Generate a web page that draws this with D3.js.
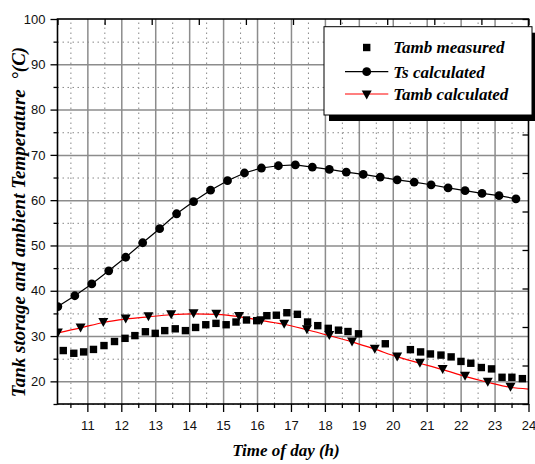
<!DOCTYPE html>
<html>
<head>
<meta charset="utf-8">
<script src="https://cdn.jsdelivr.net/npm/d3@7"></script>
<style>
  body { margin: 0; background: #fff; }
  .tick text { font-family: "Liberation Sans", Arial, sans-serif; font-size: 13px; fill: #111; }
</style>
</head>
<body>
<svg id="chart" width="535" height="464"></svg>
<script>
// Tamb measured (squares)
const measTime = [10.29, 10.60, 10.89, 11.18, 11.49, 11.80, 12.11, 12.40, 12.71, 13.00,
                  13.28, 13.59, 13.89, 14.19, 14.49, 14.79, 15.09, 15.38, 15.69, 15.99,
                  16.29, 16.57, 16.88, 17.19, 17.49, 17.79, 18.10, 18.40, 18.68, 18.99,
                  19.78, 20.52, 20.82, 21.11, 21.42, 21.72, 22.01, 22.30, 22.61, 22.91,
                  23.22, 23.51, 23.82];
const measTemp = [26.8, 26.2, 26.5, 27.05, 27.9, 28.8, 29.5, 30.1, 30.95, 30.6,
                  31.2, 31.6, 31.2, 31.9, 32.5, 32.8, 32.5, 33.1, 33.55, 33.4,
                  34.5, 34.6, 35.15, 34.8, 33.1, 32.3, 31.7, 31.3, 31.0, 30.5,
                  28.3, 27.0, 26.5, 26.05, 25.8, 25.4, 24.4, 24.0, 23.05, 22.75,
                  20.9, 20.9, 20.6];

// Ts calculated (circles, black line)
const tsTime = [10.13, 10.63, 11.13, 11.63, 12.13, 12.63, 13.13, 13.63, 14.13, 14.63,
                15.13, 15.63, 16.13, 16.63, 17.13, 17.63, 18.13, 18.63, 19.13, 19.63,
                20.13, 20.63, 21.13, 21.63, 22.13, 22.63, 23.13, 23.63];
const tsTemp = [36.5, 38.9, 41.5, 44.4, 47.4, 50.6, 53.7, 57.0, 59.7, 62.2,
                64.3, 66.0, 67.1, 67.6, 67.8, 67.3, 66.8, 66.2, 65.7, 65.1,
                64.5, 64.0, 63.4, 62.7, 62.1, 61.5, 61.0, 60.3];

// Tamb calculated (triangles)
const calcTime = [10.13, 10.80, 11.47, 12.13, 12.80, 13.47, 14.13, 14.80, 15.47, 16.13,
                  16.80, 17.47, 18.13, 18.80, 19.47, 20.13, 20.80, 21.47, 22.13, 22.80, 23.47];
const calcTemp = [30.7, 31.8, 33.0, 33.75, 34.25, 34.7, 34.9, 34.8, 34.3, 33.4,
                  32.6, 31.4, 30.1, 28.7, 27.1, 25.4, 24.0, 22.6, 21.1, 19.8, 18.7];
// red curve runs on to the right edge
const curveTime = calcTime.concat([24]);
const curveTemp = calcTemp.concat([18.3]);

const xLabels = [11, 12, 13, 14, 15, 16, 17, 18, 19, 20, 21, 22, 23, 24];
const xMinor = [10.5, 11.5, 12.5, 13.5, 14.5, 15.5, 16.5, 17.5, 18.5, 19.5, 20.5, 21.5, 22.5, 23.5];
const yLabels = [20, 30, 40, 50, 60, 70, 80, 90, 100];
const yMinor = [15, 25, 35, 45, 55, 65, 75, 85, 95];

const legendItems = ["Tamb measured", "Ts calculated", "Tamb calculated"];

const serif = "'Liberation Serif', 'Times New Roman', 'DejaVu Serif', serif";

const svg = d3.select("#chart");
const L = 57.5, R = 528.5, T = 19, B = 404;

const x = d3.scaleLinear().domain([10.12, 24]).range([L, R]);
const y = d3.scaleLinear().domain([15, 100]).range([B, T]);

svg.append("defs").append("clipPath").attr("id", "clip")
  .append("rect").attr("x", L).attr("y", T).attr("width", R - L).attr("height", B - T);

// grid - minor dotted
svg.append("g").attr("transform", `translate(0,${B})`)
  .call(d3.axisBottom(x).tickValues(xMinor).tickSize(-(B - T)).tickFormat(""))
  .call(g => g.select(".domain").remove())
  .selectAll("line").attr("stroke", "#888").attr("stroke-dasharray", "1.5,3.5");
svg.append("g").attr("transform", `translate(${L},0)`)
  .call(d3.axisLeft(y).tickValues(yMinor).tickSize(-(R - L)).tickFormat(""))
  .call(g => g.select(".domain").remove())
  .selectAll("line").attr("stroke", "#888").attr("stroke-dasharray", "1.5,3.5");

// grid - major solid
svg.append("g").attr("transform", `translate(0,${B})`)
  .call(d3.axisBottom(x).tickValues(xLabels.slice(0, -1)).tickSize(-(B - T)).tickFormat(""))
  .call(g => g.select(".domain").remove())
  .selectAll("line").attr("stroke", "#8c8c8c").attr("stroke-width", 1.5);
svg.append("g").attr("transform", `translate(${L},0)`)
  .call(d3.axisLeft(y).tickValues(yLabels.slice(0, -1)).tickSize(-(R - L)).tickFormat(""))
  .call(g => g.select(".domain").remove())
  .selectAll("line").attr("stroke", "#8c8c8c").attr("stroke-width", 1.5);

// series
const plot = svg.append("g").attr("clip-path", "url(#clip)");

const redLine = d3.line().x((d, i) => x(curveTime[i])).y(d => y(d)).curve(d3.curveMonotoneX);
plot.append("path").attr("d", redLine(curveTemp))
  .attr("fill", "none").attr("stroke", "red").attr("stroke-width", 1.2);

const tsLine = d3.line().x((d, i) => x(tsTime[i])).y(d => y(d));
plot.append("path").attr("d", tsLine(tsTemp))
  .attr("fill", "none").attr("stroke", "#000").attr("stroke-width", 1.2);

function downTri(cx, cy, w, h) {
  return `M${cx - w / 2},${cy - h / 2}L${cx + w / 2},${cy - h / 2}L${cx},${cy + h / 2}Z`;
}

plot.selectAll(".sq").data(measTemp).enter().append("rect")
  .attr("x", (d, i) => x(measTime[i]) - 3.7)
  .attr("y", d => y(d) - 3.7)
  .attr("width", 7.4).attr("height", 7.4).attr("fill", "#000");

plot.selectAll(".ci").data(tsTemp).enter().append("circle")
  .attr("cx", (d, i) => x(tsTime[i]))
  .attr("cy", d => y(d))
  .attr("r", 4.4).attr("fill", "#000");

plot.selectAll(".tr").data(calcTemp).enter().append("path")
  .attr("d", (d, i) => downTri(x(calcTime[i]), y(d), 10, 9))
  .attr("fill", "#000");

// axes
svg.append("g").attr("transform", `translate(0,${B})`)
  .call(d3.axisBottom(x).tickValues(xMinor).tickSize(4).tickFormat("").tickSizeOuter(0))
  .call(g => g.select(".domain").remove())
  .selectAll("line").attr("stroke-width", 1.3);
svg.append("g").attr("transform", `translate(0,${B})`)
  .call(d3.axisBottom(x).tickValues(xLabels).tickSize(8).tickPadding(9).tickSizeOuter(0))
  .call(g => g.select(".domain").remove())
  .selectAll("line").attr("stroke-width", 1.3);

svg.append("g").attr("transform", `translate(${L},0)`)
  .call(d3.axisLeft(y).tickValues(yMinor).tickSize(4).tickFormat("").tickSizeOuter(0))
  .call(g => g.select(".domain").remove())
  .selectAll("line").attr("stroke-width", 1.3);
svg.append("g").attr("transform", `translate(${L},0)`)
  .call(d3.axisLeft(y).tickValues(yLabels).tickSize(7).tickPadding(5).tickSizeOuter(0))
  .call(g => g.select(".domain").remove())
  .selectAll("line").attr("stroke-width", 1.3);

// top / right ticks (10 divisions, inward)
const xTop = d3.scaleLinear().domain([0, 10]).range([L, R]);
const yRight = d3.scaleLinear().domain([0, 10]).range([B, T]);
svg.append("g").attr("transform", `translate(0,${T})`)
  .call(d3.axisTop(xTop).ticks(10).tickSize(-6).tickFormat("").tickSizeOuter(0))
  .call(g => g.select(".domain").remove())
  .selectAll("line").attr("stroke-width", 1.3);
svg.append("g").attr("transform", `translate(${R},0)`)
  .call(d3.axisRight(yRight).ticks(10).tickSize(-6).tickFormat("").tickSizeOuter(0))
  .call(g => g.select(".domain").remove())
  .selectAll("line").attr("stroke-width", 1.3);

// frame
svg.append("rect").attr("x", L).attr("y", T).attr("width", R - L).attr("height", B - T)
  .attr("fill", "none").attr("stroke", "#000").attr("stroke-width", 1.6);

// legend
const lg = svg.append("g");
const lx = 324, ly = 26.7, lw = 208, lh = 88.3;
lg.append("rect").attr("x", lx + 5).attr("y", ly + 6).attr("width", lw).attr("height", lh).attr("fill", "#000");
lg.append("rect").attr("x", lx).attr("y", ly).attr("width", lw).attr("height", lh)
  .attr("fill", "#fff").attr("stroke", "#000").attr("stroke-width", 1);

const rowY = [47.5, 71.7, 95];
const baseY = [53.3, 77.7, 100];
const symX = 366.7;
lg.append("rect").attr("x", symX - 3.7).attr("y", rowY[0] - 3.7).attr("width", 7.4).attr("height", 7.4).attr("fill", "#000");
lg.append("line").attr("x1", 345).attr("x2", 388.3).attr("y1", rowY[1]).attr("y2", rowY[1]).attr("stroke", "#000").attr("stroke-width", 1.2);
lg.append("circle").attr("cx", symX).attr("cy", rowY[1]).attr("r", 4.4).attr("fill", "#000");
lg.append("line").attr("x1", 345).attr("x2", 388.3).attr("y1", rowY[2] - 1).attr("y2", rowY[2] - 1).attr("stroke", "red").attr("stroke-width", 1.2);
lg.append("path").attr("d", downTri(symX, rowY[2], 10, 9)).attr("fill", "#000");

lg.selectAll(".lt").data(legendItems).enter().append("text")
  .attr("x", 393.3).attr("y", (d, i) => baseY[i])
  .attr("font-family", serif).attr("font-weight", "bold").attr("font-style", "italic")
  .attr("font-size", 17)
  .text(d => d);

// axis titles
svg.append("text")
  .attr("x", 286).attr("y", 456).attr("text-anchor", "middle")
  .attr("font-family", serif).attr("font-weight", "bold").attr("font-style", "italic")
  .attr("font-size", 17)
  .text("Time of day (h)");

svg.append("text")
  .attr("transform", "translate(25,222) rotate(-90)")
  .attr("text-anchor", "middle")
  .attr("font-family", serif).attr("font-weight", "bold").attr("font-style", "italic")
  .attr("font-size", 19)
  .text("Tank storage and ambient Temperature \u00a0\u00b0(C)");
</script>
</body>
</html>
